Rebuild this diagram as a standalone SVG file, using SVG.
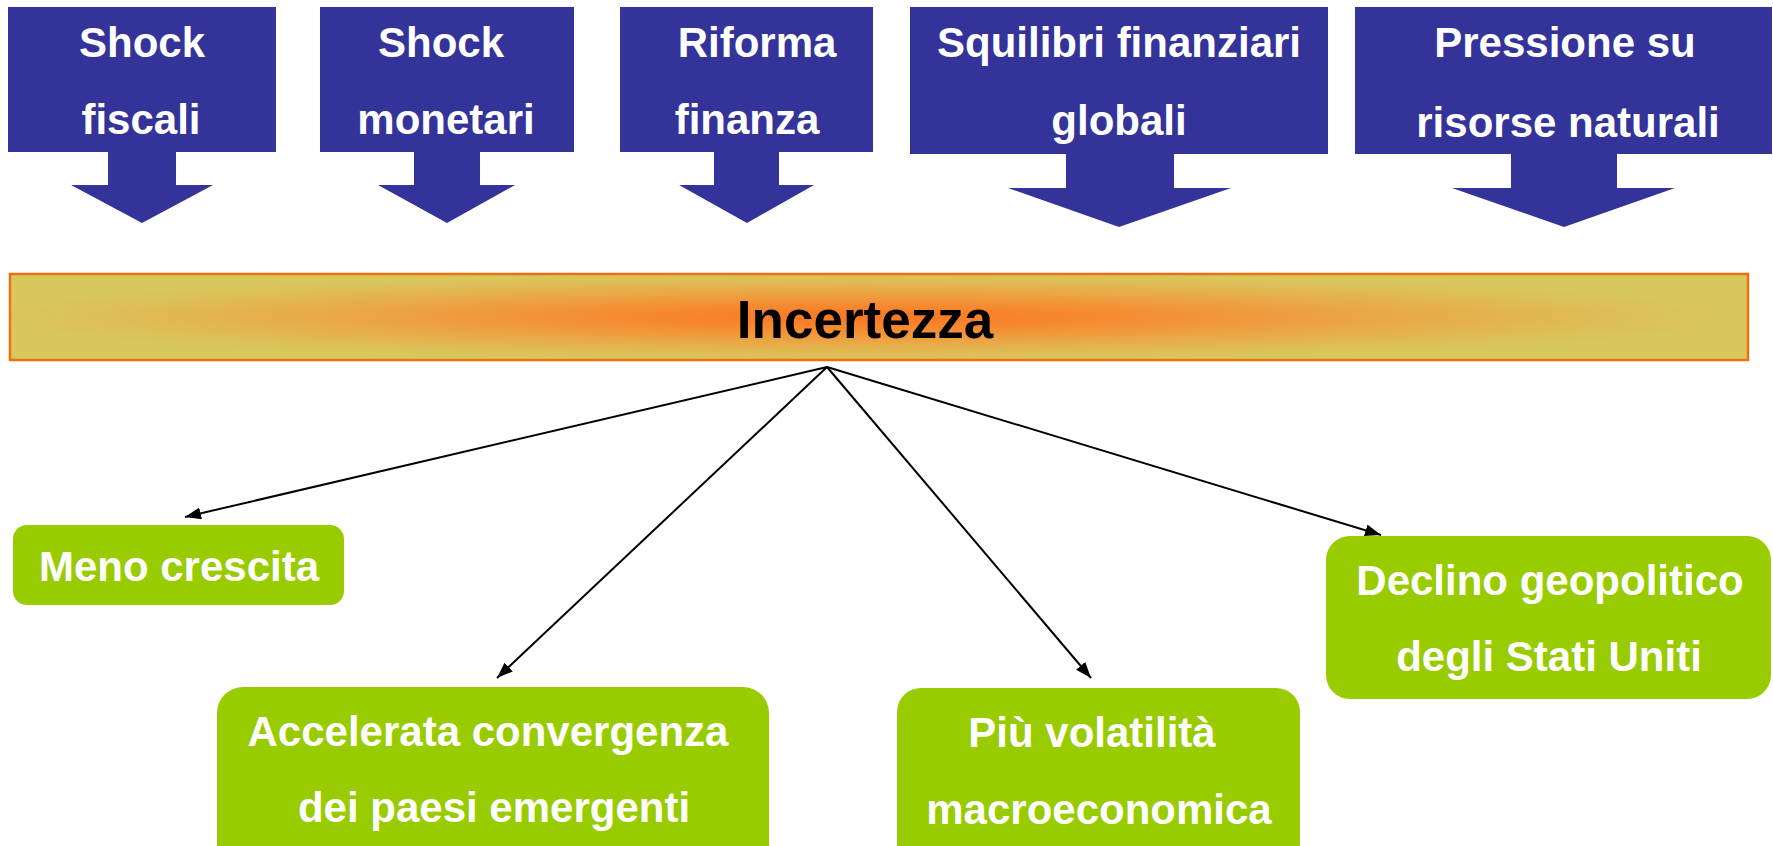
<svg xmlns="http://www.w3.org/2000/svg" width="1773" height="846" viewBox="0 0 1773 846">
<defs>
<radialGradient id="incg" cx="0.49" cy="0.5" r="0.5" gradientUnits="objectBoundingBox">
<stop offset="0" stop-color="#F97622"/>
<stop offset="0.3" stop-color="#F58C32"/>
<stop offset="0.6" stop-color="#EAA846"/>
<stop offset="0.85" stop-color="#DEBD56"/>
<stop offset="1" stop-color="#D8C75C"/>
</radialGradient>
<marker id="ah" viewBox="0 0 16 12" refX="16" refY="6" markerWidth="16" markerHeight="12" markerUnits="userSpaceOnUse" orient="auto">
<path d="M0,0 L16,6 L0,12 z" fill="#000"/>
</marker>
<style>
.blue{fill:#333399}
.green{fill:#99CC00}
.wt{font-family:"Liberation Sans",Arial,sans-serif;font-weight:bold;font-size:42px;fill:#fff;text-anchor:middle}
.conn{stroke:#000;stroke-width:2;fill:none;marker-end:url(#ah)}
</style>
</defs>
<rect width="1773" height="846" fill="#fff"/>

<g id="shock-fiscali">
<polygon class="blue" points="8,7 276,7 276,152 176,152 176,185 213,185 142,223 71,185 108,185 108,152 8,152"/>
<text class="wt" x="142" y="57">Shock</text>
<text class="wt" x="141" y="134">fiscali</text>
</g>
<g id="shock-monetari">
<polygon class="blue" points="320,7 574,7 574,152 480,152 480,185 515,185 447,223 378,185 414,185 414,152 320,152"/>
<text class="wt" x="441" y="57">Shock</text>
<text class="wt" x="446" y="134">monetari</text>
</g>
<g id="riforma-finanza">
<polygon class="blue" points="620,7 873,7 873,152 779,152 779,185 814,185 747,223 679,185 714,185 714,152 620,152"/>
<text class="wt" x="757" y="57">Riforma</text>
<text class="wt" x="747" y="134">finanza</text>
</g>
<g id="squilibri">
<polygon class="blue" points="910,7 1328,7 1328,154 1174,154 1174,188 1231,188 1119,227 1008,188 1066,188 1066,154 910,154"/>
<text class="wt" x="1119" y="57">Squilibri finanziari</text>
<text class="wt" x="1119" y="135">globali</text>
</g>
<g id="pressione">
<polygon class="blue" points="1355,7 1772,7 1772,154 1617,154 1617,188 1675,188 1564,227 1452,188 1511,188 1511,154 1355,154"/>
<text class="wt" x="1565" y="57">Pressione su</text>
<text class="wt" x="1568" y="137">risorse naturali</text>
</g>

<g id="incertezza">
<rect x="10" y="274" width="1738" height="86" fill="url(#incg)" stroke="#F07010" stroke-width="2.5"/>
<text x="865" y="338" font-family="'Liberation Sans',Arial,sans-serif" font-weight="bold" font-size="53" fill="#000" text-anchor="middle">Incertezza</text>
</g>

<g id="connectors">
<line class="conn" x1="827" y1="367" x2="185" y2="517"/>
<line class="conn" x1="827" y1="367" x2="497" y2="678"/>
<line class="conn" x1="827" y1="367" x2="1091" y2="678"/>
<line class="conn" x1="827" y1="367" x2="1381" y2="535"/>
</g>

<g id="meno-crescita">
<rect class="green" x="13" y="525" width="331" height="80" rx="14"/>
<text class="wt" x="179" y="581">Meno crescita</text>
</g>
<g id="accelerata">
<rect class="green" x="217" y="687" width="552" height="190" rx="26"/>
<text class="wt" x="488" y="746">Accelerata convergenza</text>
<text class="wt" x="494" y="822">dei paesi emergenti</text>
</g>
<g id="volatilita">
<rect class="green" x="897" y="688" width="403" height="190" rx="24"/>
<text class="wt" x="1092" y="747">Più volatilità</text>
<text class="wt" x="1099" y="824">macroeconomica</text>
</g>
<g id="declino">
<rect class="green" x="1326" y="536" width="445" height="163" rx="24"/>
<text class="wt" x="1550" y="595">Declino geopolitico</text>
<text class="wt" x="1549" y="671">degli Stati Uniti</text>
</g>
</svg>
